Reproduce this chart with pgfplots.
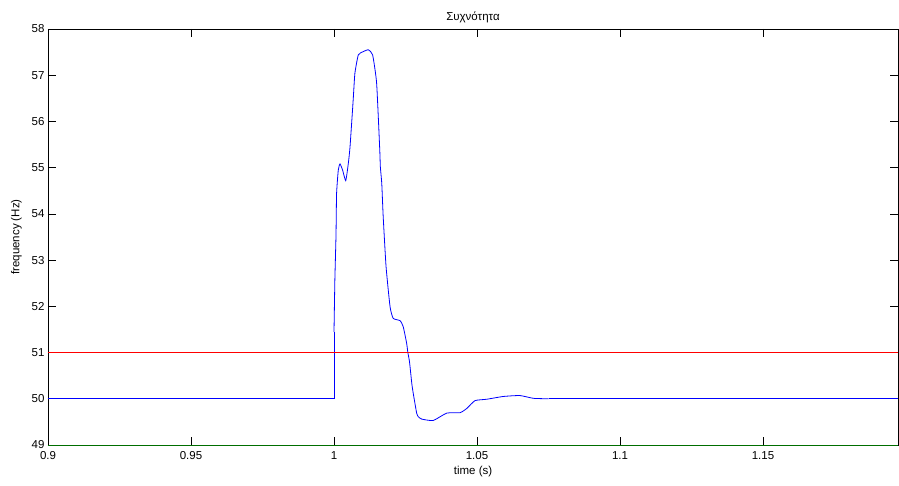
\documentclass[border=0pt]{standalone}
\usepackage{fontspec}
\setmainfont{Liberation Sans}
\usepackage{pgfplots}
\pgfplotsset{compat=1.18}
\begin{document}
\begin{tikzpicture}
\begin{axis}[
  scale only axis,
  width=850pt, height=416pt,
  xmin=0.9, xmax=1.1972,
  ymin=49, ymax=58,
  xtick={0.9,0.95,1,1.05,1.1,1.15},
  xticklabels={0.9,0.95,1,1.05,1.1,1.15},
  ytick={49,50,...,58},
  tick align=inside,
  major tick length=8pt,
  /pgf/number format/assume math mode=true,
  tick label style={font=\fontsize{11.5}{13}\selectfont},
  xticklabel style={yshift=-3pt},
  label style={font=\fontsize{11.5}{13}\selectfont},
  title style={font=\fontsize{11.5}{13}\selectfont, yshift=-3pt},
  title={Συχνότητα},
  xlabel={time (s)},
  ylabel={frequency (Hz)},
  xlabel style={at={(axis description cs:0.5,0)}, anchor=north, inner sep=0pt, yshift=-21pt},
  ylabel style={at={(axis description cs:0,0.5)}, anchor=south, inner sep=0pt, yshift=26pt},
  axis line style={black, line width=0.7pt},
  tick style={black, line width=0.6pt},
  clip=false,
]
\addplot[color={rgb,255:red,0;green,0;blue,255}, line width=0.8pt] coordinates {
(0.9,50) (1.0,50) (1.0,51.45)
};
\addplot[color={rgb,255:red,0;green,0;blue,255}, line width=0.8pt, smooth, tension=0.3] coordinates {
(1.0,51.45) (1.0003,52.57) (1.0007,53.54) (1.0009,54.44)
(1.0015,54.95) (1.0021,55.08) (1.0030,54.95) (1.0041,54.72) (1.0050,55.09)
(1.0056,55.45) (1.0067,56.46) (1.0073,57.04) (1.0085,57.44) (1.0102,57.51)
(1.0120,57.55) (1.0135,57.44) (1.0149,56.83) (1.0160,55.38) (1.0162,55.02)
(1.0167,54.66) (1.0172,53.94) (1.0182,52.86) (1.0196,51.99) (1.0207,51.74)
(1.0231,51.69) (1.0242,51.56) (1.0254,51.20) (1.0258,51.01) (1.0264,50.80)
(1.0272,50.33) (1.0277,50.12) (1.0289,49.69) (1.0295,49.61) (1.0307,49.56)
(1.0347,49.53) (1.0394,49.69) (1.0441,49.70) (1.0464,49.79) (1.0493,49.96)
(1.0534,49.99) (1.0592,50.05) (1.0650,50.07) (1.0697,50.01) (1.0750,50.0)
};
\addplot[color={rgb,255:red,0;green,0;blue,255}, line width=0.8pt] coordinates {
(1.0750,50.0) (1.1972,50)
};
\addplot[color={rgb,255:red,255;green,0;blue,0}, line width=0.8pt] coordinates {(0.9,51) (1.1972,51)};
\addplot[color={rgb,255:red,0;green,110;blue,0}, line width=0.8pt] coordinates {(0.9,49) (1.1972,49)};
\end{axis}
\pgfresetboundingbox
\path (current axis.south west) ++(-48pt,-40pt) rectangle ++(899pt,485pt);
\end{tikzpicture}
\end{document}
